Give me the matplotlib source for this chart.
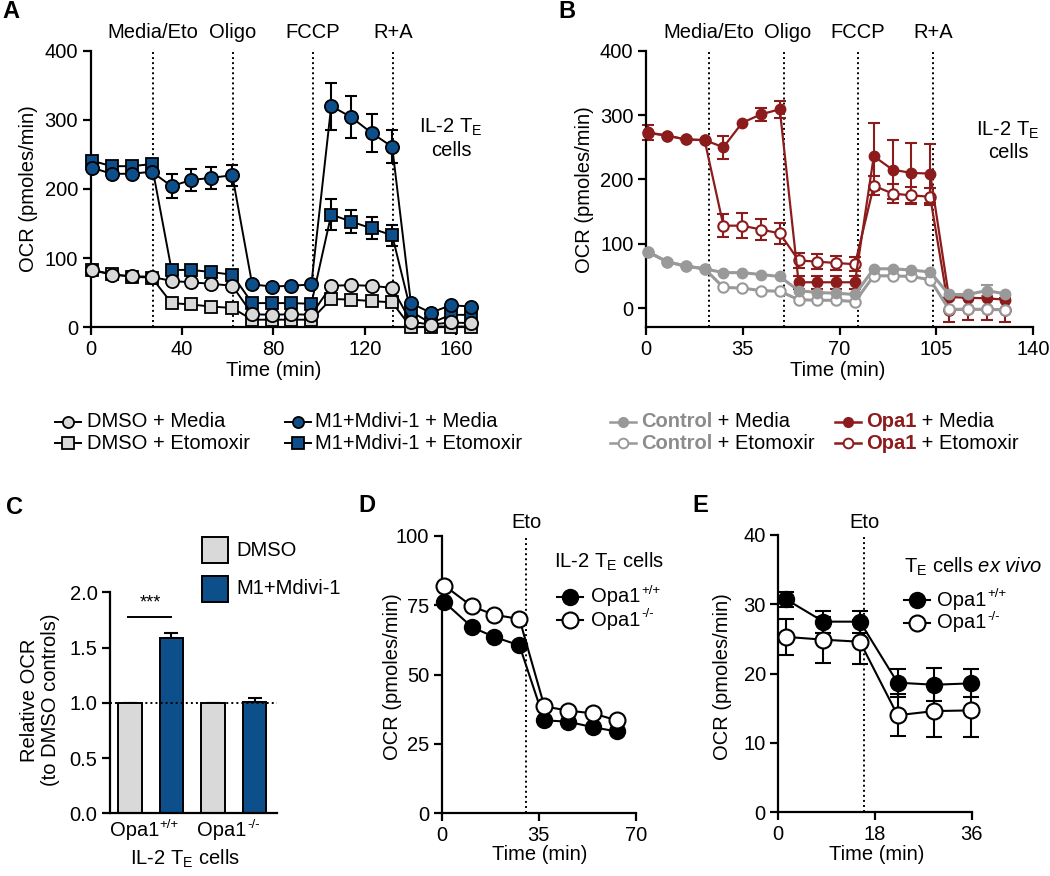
import matplotlib.pyplot as plt
import matplotlib.transforms as mtransforms
from matplotlib.lines import Line2D
from matplotlib.patches import Rectangle
import numpy as np

FS = 14.5
plt.rcParams['font.family'] = ['Liberation Sans', 'DejaVu Sans']
plt.rcParams['mathtext.fontset'] = 'custom'
plt.rcParams['mathtext.rm'] = 'Liberation Sans'
plt.rcParams['mathtext.it'] = 'Liberation Sans:italic'
plt.rcParams['font.size'] = FS
plt.rcParams['axes.linewidth'] = 1.6

BLUE = '#0d4f8b'
LGRAY = '#d9d9d9'
RED = '#8c1c1c'
MGRAY = '#999999'

# ---- panel A: Seahorse trace, DMSO vs M1+Mdivi-1
t_a = [0.4, 9.2, 17.9, 26.7, 35.4, 43.9, 52.6, 62, 70.7, 79.4, 87.9, 96.6,
       105.3, 114, 123, 132, 140.2, 148.9, 157.6, 166.4]
dmso_media = [83, 76, 74, 73, 67, 65, 63, 60, 19, 18, 19, 18, 60, 61, 60, 57, 8, 4, 7, 6]
dmso_eto = [83, 77, 73, 72, 35, 33, 30, 28, 11, 11, 11, 11, 41, 40, 38, 36, 0, 1, 1, 1]
m1_media = [231, 222, 222, 225, 204, 213, 216, 220, 62, 59, 60, 62, 320, 304, 281, 261, 35, 21, 32, 30]
m1_media_err = [0, 0, 0, 0, 17, 16, 16, 15, 0, 0, 0, 0, 34, 30, 27, 24, 0, 0, 0, 0]
m1_eto = [241, 233, 233, 236, 83, 83, 80, 76, 35, 35, 35, 34, 163, 153, 143, 133, 23, 6, 18, 18]
m1_eto_err = [0, 0, 0, 0, 0, 0, 0, 0, 0, 0, 0, 0, 22, 17, 16, 15, 0, 0, 0, 0]
inj_a = [27.1, 62.1, 97.4, 132.4]

# ---- panel B: Seahorse trace, Control vs Opa1
t_b = [0.8, 7.6, 14.4, 21.2, 28, 34.8, 41.6, 48.4, 55.2, 62, 68.8, 75.6,
       82.4, 89.2, 96, 102.8, 109.6, 116.4, 123.2, 130]
ctrl_media = [87, 72, 65, 61, 55, 55, 52, 49, 27, 24, 23, 21, 61, 61, 59, 56, 21, 21, 27, 22]
ctrl_media_err = [0, 0, 0, 0, 0, 0, 0, 0, 0, 0, 0, 0, 0, 0, 0, 0, 0, 0, 8, 0]
ctrl_eto = [87, 72, 65, 61, 32, 31, 27, 26, 13, 12, 12, 10, 50, 50, 49, 44, -2, -2, -2, -3]
opa1_media = [273, 268, 262, 261, 250, 288, 301, 309, 40, 40, 40, 40, 236, 215, 210, 209, 17, 16, 15, 13]
opa1_media_err = [12, 0, 0, 0, 18, 0, 10, 13, 10, 10, 10, 10, 52, 46, 46, 46, 0, 0, 0, 0]
opa1_eto = [272, 268, 262, 261, 128, 128, 122, 116, 74, 72, 70, 68, 190, 178, 175, 173, -3, -2, -2, -3]
opa1_eto_err = [0, 0, 0, 0, 18, 19, 17, 16, 12, 12, 11, 11, 15, 14, 13, 13, 19, 17, 17, 19]
inj_b = [22.7, 49.8, 76.7, 103.8]
inj_labels = ['Media/Eto', 'Oligo', 'FCCP', 'R+A']

# ---- panel C: relative OCR bars
c_groups = [('Opa1', '+/+'), ('Opa1', '-/-')]
c_vals = [1.0, 1.59, 1.0, 1.01]
c_err = [0, 0.04, 0, 0.03]

# ---- panel D
t_d = [1, 11, 19, 28, 37, 45.5, 54.5, 63]
d_wt = [76, 67, 63.5, 60.5, 33.5, 33, 31, 29.5]
d_ko = [82, 74.5, 71.5, 70, 38.5, 37, 36, 33.5]

# ---- panel E
t_e = [1.5, 8.4, 15.2, 22.2, 29, 35.9]
e_wt = [30.7, 27.5, 27.5, 18.7, 18.4, 18.6]
e_wt_err = [1.1, 1.6, 1.6, 2.0, 2.4, 2.0]
e_ko = [25.3, 24.9, 24.6, 14.0, 14.6, 14.7]
e_ko_err = [2.6, 3.3, 3.2, 3.0, 3.7, 3.9]

W, H = 1050, 876
fig = plt.figure(figsize=(W / 100, H / 100), dpi=100)
renderer = fig.canvas.get_renderer()


def fx(x):
    return x / W


def fy(y):
    return 1 - y / H


def px_axes(l, t, r, b):
    ax = fig.add_axes([fx(l), fy(b), (r - l) / W, (b - t) / H])
    ax.spines[['top', 'right']].set_visible(False)
    ax.tick_params(width=1.6, length=6, labelsize=FS, pad=3)
    return ax


def err_only(ax, x, y, e, color, cap):
    x, y, e = np.array(x), np.array(y), np.array(e)
    m = e > 0
    ax.errorbar(x[m], y[m], yerr=e[m], fmt='none', ecolor=color, elinewidth=1.5,
                capsize=cap, capthick=1.5, zorder=2, clip_on=False)


def handle(x0, x1, y, **kw):
    fig.add_artist(Line2D([fx(x0), fx((x0 + x1) / 2), fx(x1)], [fy(y)] * 3,
                          transform=fig.transFigure, markevery=[1], **kw))


def rich(x, y, parts):
    for s, kw in parts:
        t = fig.text(fx(x), fy(y), s, va='center', ha='left', fontsize=FS, **kw)
        x += t.get_window_extent(renderer).width


def sup_text(x, y, base, sup, center=False):
    t = fig.text(fx(x), fy(y), base, va='center', ha='left', fontsize=FS)
    w = t.get_window_extent(renderer).width
    s = fig.text(fx(x + w + 0.5), fy(y - 6), sup, va='center', ha='left', fontsize=9.5)
    if center:
        ws = s.get_window_extent(renderer).width
        shift = (w + ws) / 2
        t.set_x(fx(x - shift))
        s.set_x(fx(x - shift + w + 0.5))


# ================= A
ax = px_axes(90.7, 50.7, 476.7, 327.3)
for x in inj_a:
    ax.axvline(x, color='black', ls=(0, (1, 1.6)), lw=1.4, zorder=1)
err_only(ax, t_a, m1_eto, m1_eto_err, 'black', 4.5)
err_only(ax, t_a, m1_media, m1_media_err, 'black', 4.5)
series_a = [(m1_eto, 's', BLUE), (m1_media, 'o', BLUE),
            (dmso_eto, 's', LGRAY), (dmso_media, 'o', LGRAY)]
for vals, mk, fc in series_a:
    ax.plot(t_a, vals, color='black', lw=1.4, marker=mk, ms=9.5 if mk == 'o' else 9,
            mfc=fc, mec='black', mew=1.3, zorder=3, clip_on=False)
ax.set_xlim(0, 169)
ax.set_ylim(0, 400)
ax.set_xticks([0, 40, 80, 120, 160])
ax.set_yticks([0, 100, 200, 300, 400])
blend = mtransforms.blended_transform_factory(ax.transData, fig.transFigure)
for x, lab in zip(inj_a, inj_labels):
    ax.text(x, fy(33), lab, transform=blend, ha='center', va='center', fontsize=FS)
fig.text(fx(451), fy(127), r'IL-2 T$_\mathregular{E}$', ha='center', va='center', fontsize=FS)
fig.text(fx(451), fy(150), 'cells', ha='center', va='center', fontsize=FS)
fig.text(fx(28), fy(189), 'OCR (pmoles/min)', rotation=90, ha='center', va='center', fontsize=FS)
fig.text(fx(274), fy(370), 'Time (min)', ha='center', va='center', fontsize=FS)

# ================= B
ax = px_axes(646, 50.7, 1033, 327.3)
for x in inj_b:
    ax.axvline(x, color='black', ls=(0, (1, 1.6)), lw=1.4, zorder=1)
err_only(ax, t_b, opa1_eto, opa1_eto_err, RED, 4.5)
err_only(ax, t_b, opa1_media, opa1_media_err, RED, 4.5)
ax.plot(t_b, opa1_eto, color=RED, lw=1.6, marker='o', ms=7.5, mfc='white', mec=RED,
        mew=1.5, zorder=3, clip_on=False)
ax.plot(t_b, opa1_media, color=RED, lw=1.6, marker='o', ms=7.5, mfc=RED, mec=RED,
        zorder=3, clip_on=False)
err_only(ax, t_b, ctrl_media, ctrl_media_err, MGRAY, 4.5)
ax.plot(t_b, ctrl_eto, color=MGRAY, lw=2.2, marker='o', ms=7.5, mfc='white', mec=MGRAY,
        mew=1.5, zorder=4, clip_on=False)
ax.plot(t_b, ctrl_media, color=MGRAY, lw=2.2, marker='o', ms=7.5, mfc=MGRAY, mec=MGRAY,
        zorder=4, clip_on=False)
ax.set_xlim(0, 140)
ax.set_ylim(-30, 400)
ax.set_xticks([0, 35, 70, 105, 140])
ax.set_yticks([0, 100, 200, 300, 400])
blend = mtransforms.blended_transform_factory(ax.transData, fig.transFigure)
for x, lab in zip(inj_b, inj_labels):
    xx = x + 1.5 if lab == 'Oligo' else x
    ax.text(xx, fy(33), lab, transform=blend, ha='center', va='center', fontsize=FS)
fig.text(fx(1008), fy(130), r'IL-2 T$_\mathregular{E}$', ha='center', va='center', fontsize=FS)
fig.text(fx(1008), fy(152), 'cells', ha='center', va='center', fontsize=FS)
fig.text(fx(585), fy(190), 'OCR (pmoles/min)', rotation=90, ha='center', va='center', fontsize=FS)
fig.text(fx(838), fy(370), 'Time (min)', ha='center', va='center', fontsize=FS)

# ---- legends under A and B
rows = [421.7, 443.3]
handle(55, 81, rows[0], color='black', lw=1.4, marker='o', ms=8, mfc=LGRAY, mec='black', mew=1.3)
handle(55, 81, rows[1], color='black', lw=1.4, marker='s', ms=8, mfc=LGRAY, mec='black', mew=1.3)
handle(285, 311, rows[0], color='black', lw=1.4, marker='o', ms=8, mfc=BLUE, mec='black', mew=1.3)
handle(285, 311, rows[1], color='black', lw=1.4, marker='s', ms=8, mfc=BLUE, mec='black', mew=1.3)
rich(87, rows[0], [('DMSO + Media', {})])
rich(87, rows[1], [('DMSO + Etomoxir', {})])
rich(315, rows[0], [('M1+Mdivi-1 + Media', {})])
rich(315, rows[1], [('M1+Mdivi-1 + Etomoxir', {})])

handle(610, 636, rows[0], color=MGRAY, lw=1.8, marker='o', ms=7, mfc=MGRAY, mec=MGRAY)
handle(610, 636, rows[1], color=MGRAY, lw=1.8, marker='o', ms=7, mfc='white', mec=MGRAY, mew=1.4)
handle(835, 861, rows[0], color=RED, lw=1.8, marker='o', ms=7, mfc=RED, mec=RED)
handle(835, 861, rows[1], color=RED, lw=1.8, marker='o', ms=7, mfc='white', mec=RED, mew=1.4)
rich(641, rows[0], [('Control', dict(color='#8c8c8c', fontweight='bold')), (' + Media', {})])
rich(641, rows[1], [('Control', dict(color='#8c8c8c', fontweight='bold')), (' + Etomoxir', {})])
rich(866, rows[0], [('Opa1', dict(color=RED, fontweight='bold')), (' + Media', {})])
rich(866, rows[1], [('Opa1', dict(color=RED, fontweight='bold')), (' + Etomoxir', {})])

# ================= C
ax = px_axes(110, 592.3, 277, 813.3)
pos = [0, 1, 2, 3]
ax.bar(pos, c_vals, width=0.57, color=[LGRAY, BLUE, LGRAY, BLUE], edgecolor='black',
       linewidth=1.4, zorder=2)
ax.errorbar(pos, c_vals, yerr=[[0] * 4, c_err], fmt='none', ecolor='black', elinewidth=1.5,
            capsize=5, capthick=1.5, zorder=1)
ax.axhline(1.0, color='black', ls=(0, (1, 1.6)), lw=1.4, zorder=3)
ax.plot([-0.05, 1.0], [1.78, 1.78], color='black', lw=1.4, clip_on=False)
ax.text(0.48, 1.83, '***', ha='center', va='bottom', fontsize=13)
ax.set_xlim(-0.48, 3.54)
ax.set_ylim(0, 2.0)
ax.set_yticks([0, 0.5, 1.0, 1.5, 2.0])
ax.set_yticklabels(['0.0', '0.5', '1.0', '1.5', '2.0'])
ax.set_xticks([])
for (base, sup), xc in zip(c_groups, [144, 228]):
    sup_text(xc, 831, base, sup, center=True)
fig.add_artist(Rectangle((fx(202), fy(563)), 26 / W, 26 / H, transform=fig.transFigure,
                         fc=LGRAY, ec='black', lw=1.4))
fig.add_artist(Rectangle((fx(202), fy(602)), 26 / W, 26 / H, transform=fig.transFigure,
                         fc=BLUE, ec='black', lw=1.4))
fig.text(fx(236), fy(550), 'DMSO', ha='left', va='center', fontsize=FS)
fig.text(fx(236), fy(589), 'M1+Mdivi-1', ha='left', va='center', fontsize=FS)
fig.text(fx(40), fy(700), 'Relative OCR\n(to DMSO controls)', rotation=90, ha='center',
         va='center', fontsize=FS, linespacing=1.1)
fig.text(fx(185), fy(859), r'IL-2 T$_\mathregular{E}$ cells', ha='center', va='center', fontsize=FS)

# ================= D
ax = px_axes(441.7, 535.7, 636, 813.3)
ax.axvline(30.4, color='black', ls=(0, (1, 1.6)), lw=1.4, zorder=1)
ax.plot(t_d, d_wt, color='black', lw=1.5, marker='o', ms=11.5, mfc='black', mec='black',
        zorder=3, clip_on=False)
ax.plot(t_d, d_ko, color='black', lw=1.5, marker='o', ms=11.5, mfc='white', mec='black',
        mew=1.5, zorder=3, clip_on=False)
ax.set_xlim(0, 70)
ax.set_ylim(0, 100)
ax.set_xticks([0, 35, 70])
ax.set_yticks([0, 25, 50, 75, 100])
ax.text(30.4, fy(522), 'Eto', transform=mtransforms.blended_transform_factory(ax.transData, fig.transFigure),
        ha='center', va='center', fontsize=FS)
fig.text(fx(554), fy(562), r'IL-2 T$_\mathregular{E}$ cells', ha='left', va='center', fontsize=FS)
handle(557, 583, 597, color='black', lw=1.5, marker='o', ms=11.5, mfc='black', mec='black')
handle(557, 583, 620, color='black', lw=1.5, marker='o', ms=11.5, mfc='white', mec='black', mew=1.5)
sup_text(591, 597, 'Opa1', '+/+')
sup_text(591, 620, 'Opa1', '-/-')
fig.text(fx(392), fy(677), 'OCR (pmoles/min)', rotation=90, ha='center', va='center', fontsize=FS)
fig.text(fx(540), fy(855), 'Time (min)', ha='center', va='center', fontsize=FS)

# ================= E
ax = px_axes(778.3, 535, 971.7, 812.3)
ax.axvline(16, color='black', ls=(0, (1, 1.6)), lw=1.4, zorder=1)
err_only(ax, t_e, e_wt, e_wt_err, 'black', 6)
err_only(ax, t_e, e_ko, e_ko_err, 'black', 6)
ax.plot(t_e, e_wt, color='black', lw=1.5, marker='o', ms=11.5, mfc='black', mec='black',
        zorder=3, clip_on=False)
ax.plot(t_e, e_ko, color='black', lw=1.5, marker='o', ms=11.5, mfc='white', mec='black',
        mew=1.5, zorder=3, clip_on=False)
ax.set_xlim(0, 36)
ax.set_ylim(0, 40)
ax.set_xticks([0, 18, 36])
ax.set_yticks([0, 10, 20, 30, 40])
ax.text(16, fy(522), 'Eto', transform=mtransforms.blended_transform_factory(ax.transData, fig.transFigure),
        ha='center', va='center', fontsize=FS)
fig.text(fx(904), fy(567), r'T$_\mathregular{E}$ cells $\mathit{ex\ vivo}$', ha='left', va='center', fontsize=FS)
handle(904, 930, 600, color='black', lw=1.5, marker='o', ms=11.5, mfc='black', mec='black')
handle(904, 930, 623, color='black', lw=1.5, marker='o', ms=11.5, mfc='white', mec='black', mew=1.5)
sup_text(937, 600, 'Opa1', '+/+')
sup_text(937, 623, 'Opa1', '-/-')
fig.text(fx(723), fy(677), 'OCR (pmoles/min)', rotation=90, ha='center', va='center', fontsize=FS)
fig.text(fx(877), fy(855), 'Time (min)', ha='center', va='center', fontsize=FS)

# panel letters
for lab, x, y in [('A', 11, 12), ('B', 567, 12), ('C', 14, 508), ('D', 367, 506), ('E', 700, 506)]:
    fig.text(fx(x), fy(y), lab, ha='center', va='center', fontsize=17, fontweight='bold')

fig.savefig('out.png', dpi=100)
